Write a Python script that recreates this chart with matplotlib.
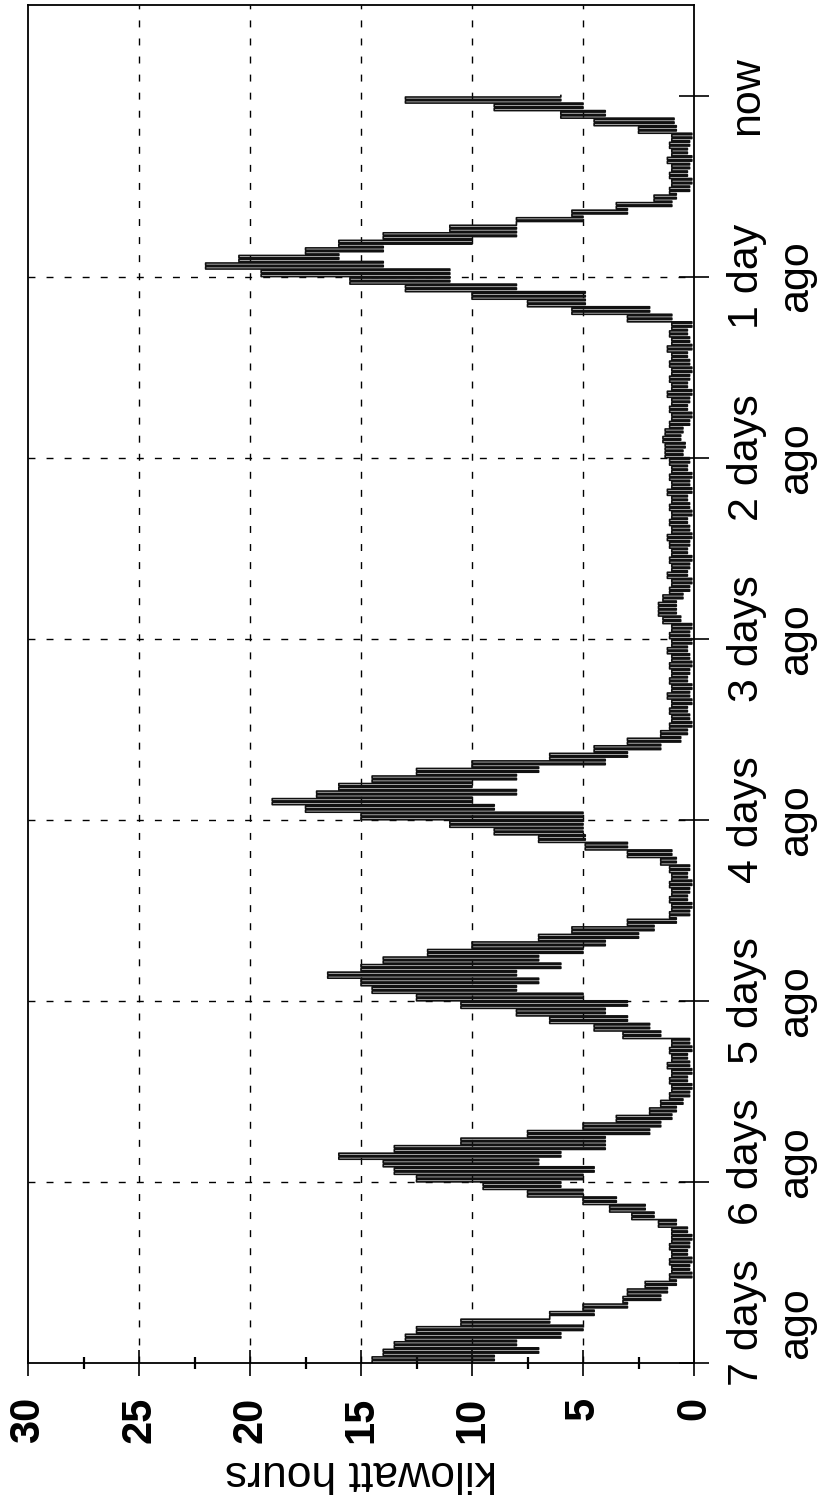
import numpy as np
import matplotlib.pyplot as plt
from matplotlib.transforms import ScaledTranslation

# ------------------------------------------------------------
# Hourly readings, from 7 days ago up to now
# *_hi : level the meter sits at during the hour
# *_lo : the short dips the trace makes inside the hour
# ------------------------------------------------------------
day1_hi = [14.5, 14.0, 13.5, 13.0, 12.5, 10.5, 6.5, 5.0, 3.2, 3.0, 2.2, 1.1,
           1.0, 1.1, 1.0, 1.1, 1.0, 1.0, 1.6, 2.8, 3.8, 5.0, 7.5, 9.5]
day1_lo = [9.0, 7.0, 8.0, 6.0, 5.0, 6.5, 4.5, 3.0, 1.5, 1.2, 0.8, 0.1,
           0.2, 0.1, 0.3, 0.2, 0.1, 0.3, 0.8, 1.8, 2.2, 3.5, 5.0, 6.0]

day2_hi = [12.5, 13.5, 14.0, 16.0, 13.5, 10.5, 7.5, 5.0, 3.5, 2.0, 1.5, 1.1,
           1.0, 1.1, 1.0, 1.2, 1.0, 1.1, 1.0, 3.2, 4.5, 6.5, 8.0, 10.5]
day2_lo = [5.0, 4.5, 7.0, 6.0, 4.0, 4.0, 2.0, 1.5, 1.0, 0.8, 0.5, 0.2,
           0.1, 0.3, 0.1, 0.2, 0.3, 0.1, 0.2, 1.5, 2.0, 3.0, 4.0, 3.0]

day3_hi = [12.5, 14.5, 15.0, 16.5, 15.0, 14.0, 12.0, 10.0, 7.0, 5.5, 3.0, 1.1,
           1.0, 1.1, 1.0, 1.1, 1.0, 1.1, 1.5, 3.0, 4.9, 7.0, 9.0, 11.0]
day3_lo = [5.0, 8.0, 7.0, 8.0, 6.0, 7.0, 5.0, 4.0, 2.5, 1.8, 0.8, 0.2,
           0.1, 0.3, 0.2, 0.1, 0.3, 0.2, 0.8, 1.0, 3.0, 4.9, 5.0, 5.0]

day4_hi = [15.0, 17.5, 19.0, 17.0, 16.0, 14.5, 12.5, 10.0, 6.5, 4.5, 3.0, 1.5,
           1.1, 1.0, 1.1, 1.0, 1.2, 1.0, 1.1, 1.0, 1.1, 1.0, 1.2, 1.0]
day4_lo = [5.0, 9.0, 10.0, 8.0, 10.0, 8.0, 7.0, 4.0, 3.0, 1.5, 0.6, 0.3,
           0.1, 0.2, 0.3, 0.1, 0.2, 0.1, 0.3, 0.2, 0.1, 0.2, 0.3, 0.1]

day5_hi = [1.1, 1.0, 1.4, 1.6, 1.6, 1.4, 1.1, 1.0, 1.2, 1.0, 1.1, 1.0,
           1.1, 1.2, 1.0, 1.1, 1.0, 1.1, 1.0, 1.2, 1.0, 1.1, 1.0, 1.1]
day5_lo = [0.2, 0.1, 0.6, 0.8, 0.8, 0.5, 0.2, 0.1, 0.3, 0.2, 0.1, 0.3,
           0.2, 0.1, 0.2, 0.3, 0.1, 0.2, 0.3, 0.1, 0.2, 0.1, 0.3, 0.2]

day6_hi = [1.3, 1.3, 1.4, 1.3, 1.1, 1.0, 1.1, 1.0, 1.2, 1.0, 1.1, 1.0,
           1.1, 1.0, 1.2, 1.0, 1.1, 1.0, 3.0, 5.5, 7.5, 10.0, 13.0, 15.5]
day6_lo = [0.5, 0.4, 0.6, 0.5, 0.2, 0.1, 0.3, 0.2, 0.1, 0.3, 0.2, 0.1,
           0.2, 0.3, 0.1, 0.2, 0.3, 0.1, 1.0, 2.0, 4.9, 4.9, 8.0, 11.0]

day7_hi = [19.5, 22.0, 20.5, 17.5, 16.0, 14.0, 11.0, 8.0, 5.5, 3.5, 1.8, 1.1,
           1.0, 1.1, 1.0, 1.2, 1.0, 1.1, 1.0, 2.5, 4.5, 6.0, 9.0, 13.0]
day7_lo = [11.0, 14.0, 16.0, 14.0, 10.0, 8.0, 8.0, 5.0, 3.0, 1.0, 0.8, 0.2,
           0.1, 0.3, 0.2, 0.1, 0.3, 0.2, 0.1, 0.8, 0.9, 4.0, 5.0, 6.0]

kwh_ticks = [0, 5, 10, 15, 20, 25, 30]
kwh_minor = [2.5, 7.5, 12.5, 17.5, 22.5, 27.5]
day_ticks = [-7, -6, -5, -4, -3, -2, -1, 0]
day_labels = ["7 days\nago", "6 days\nago", "5 days\nago", "4 days\nago",
              "3 days\nago", "2 days\nago", "1 day\nago", "now"]

plt.rcParams['font.family'] = ['Liberation Sans', 'DejaVu Sans']

hi = np.array(day1_hi + day2_hi + day3_hi + day4_hi + day5_hi + day6_hi + day7_hi)
lo = np.array(day1_lo + day2_lo + day3_lo + day4_lo + day5_lo + day6_lo + day7_lo)

# each hour drawn as level / dip / level / dip (the meter flickers)
n = len(hi)
hours = np.arange(n)
t = np.column_stack([hours, hours + 0.3, hours + 0.5, hours + 0.8]).ravel()
v = np.column_stack([hi, lo, hi, lo]).ravel()
t = np.append(t, n)
v = np.append(v, v[-1])
days = t / 24.0 - 7

# ================= figure (chart is turned on its side) =================
fig = plt.figure(figsize=(8.27, 15.08), dpi=100)
ax = fig.add_axes([0.0339, 0.0962, 0.8053, 0.9005])

ax.plot(v, days, color="#111111", lw=1.2, drawstyle="steps-pre")

dash = (0, (5, 8))
for k in kwh_ticks[1:-1]:
    ax.axvline(k, color="black", lw=1.0, ls=dash, zorder=0)
for d in day_ticks[1:-1]:
    ax.axhline(d, color="black", lw=1.0, ls=dash, zorder=0)

ax.set_xlim(30, 0)
ax.set_ylim(-7, 0.5)

ax.set_xticks(kwh_ticks)
ax.set_xticks(kwh_minor, minor=True)
ax.set_xticklabels([str(k) for k in kwh_ticks], rotation=90, fontweight="bold")
ax.tick_params(axis="x", which="major", direction="inout", length=19,
               width=1.2, pad=15, labelsize=30)
ax.tick_params(axis="x", which="minor", direction="inout", length=9, width=1.6)

ax.yaxis.tick_right()
ax.set_yticks(day_ticks)
ax.set_yticklabels(day_labels)
ax.tick_params(axis="y", direction="inout", length=21, width=1.2, pad=13,
               labelsize=31)
plt.setp(ax.get_yticklabels(), rotation=90, va="center", ha="left",
         multialignment="center", linespacing=1.3)

# the two oldest labels sit a little above their ticks in the original
ylabs = ax.get_yticklabels()
for lab, dy in zip(ylabs[:2], [0.40, 0.20]):
    lab.set_transform(lab.get_transform() + ScaledTranslation(0, dy, fig.dpi_scale_trans))

ax.set_xlabel("kilowatt hours", rotation=180, fontsize=32, labelpad=6)

for s in ax.spines.values():
    s.set_linewidth(1.3)

plt.savefig("out.png", dpi=100)
